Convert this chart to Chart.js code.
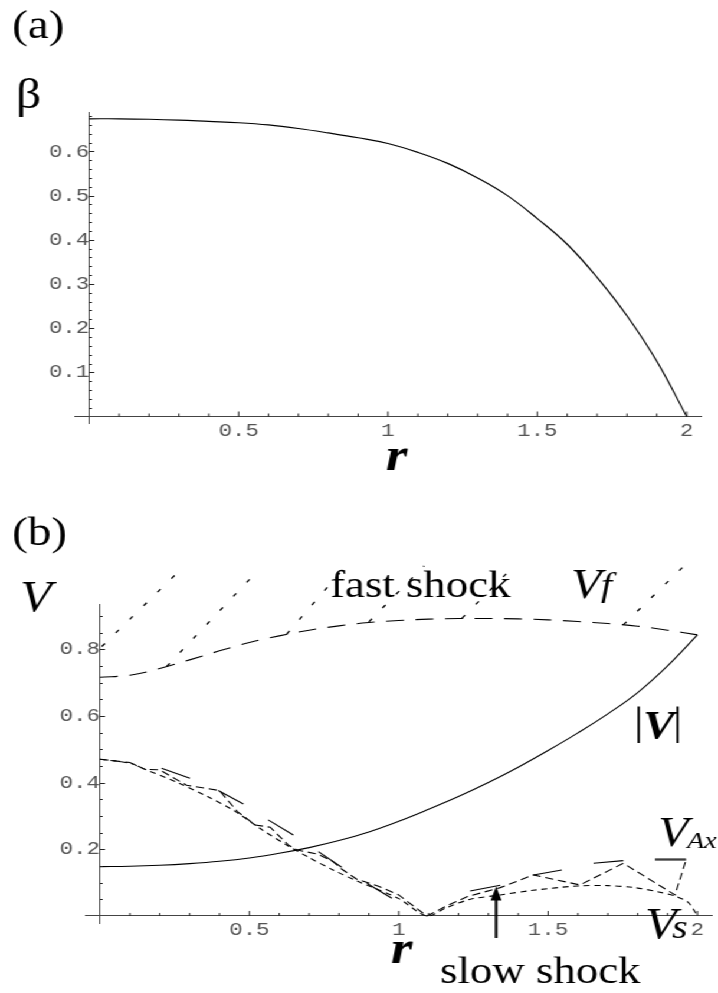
<!DOCTYPE html>
<html><head><meta charset="utf-8">
<script src="https://cdn.jsdelivr.net/npm/chart.js@4.4.1/dist/chart.umd.min.js"></script>
<style>
html,body{margin:0;padding:0;background:#fff;overflow:hidden;width:718px;height:993px;}
#wrap{position:absolute;left:0;top:0;width:609px;height:993px;transform:scaleX(1.18);transform-origin:0 0;}
canvas{position:absolute;left:0;}
</style></head><body>
<div id="wrap">
<canvas id="c1" width="609" height="480" style="top:0;width:609px;height:480px"></canvas>
<canvas id="c2" width="609" height="513" style="top:480px;width:609px;height:513px"></canvas>
</div>
<script>
// ---------- data: panel (a) ----------
const betaR   = [0,0.1,0.2,0.3,0.4,0.5,0.6,0.7,0.8,0.9,1.0,1.1,1.2,1.3,1.4,1.5,1.6,1.7,1.8,1.9,2.0];
const betaVal = [0.674,0.674,0.673,0.671,0.668,0.665,0.660,0.652,0.642,0.631,0.618,0.598,0.573,0.540,0.500,0.448,0.390,0.315,0.228,0.125,0.0];
const aXMajor = [0.5,1,1.5,2];
const aYMajor = [0.1,0.2,0.3,0.4,0.5,0.6];
const aXMinor = [0.1,0.2,0.3,0.4,0.5,0.6,0.7,0.8,0.9,1.0,1.1,1.2,1.3,1.4,1.5,1.6,1.7,1.8,1.9,2.0];
const aYMinor = [0.02,0.04,0.06,0.08,0.1,0.12,0.14,0.16,0.18,0.2,0.22,0.24,0.26,0.28,0.3,0.32,0.34,0.36,0.38,0.4,0.42,0.44,0.46,0.48,0.5,0.52,0.54,0.56,0.58,0.6,0.62,0.64,0.66,0.68];

// ---------- data: panel (b) ----------
const rGrid  = [0,0.1,0.2,0.3,0.4,0.5,0.6,0.7,0.8,0.9,1.0,1.1,1.2,1.3,1.4,1.5,1.6,1.7,1.8,1.9,2.0];
const vAbs   = [0.148,0.149,0.152,0.157,0.164,0.174,0.188,0.205,0.226,0.252,0.284,0.320,0.358,0.400,0.446,0.496,0.549,0.606,0.670,0.750,0.843];
const vFast  = [0.716,0.722,0.742,0.768,0.795,0.820,0.840,0.857,0.870,0.880,0.886,0.890,0.892,0.892,0.891,0.888,0.883,0.877,0.869,0.857,0.843];
const vaxR   = [0,0.10,0.15,0.20,0.29,0.40,0.46,0.52,0.57,0.63,0.66,0.73,0.78,0.81,0.86,0.93,1.00,1.094,1.16,1.23,1.34,1.451,1.607,1.752,1.925,1.962];
const vaxV   = [0.470,0.460,0.440,0.438,0.392,0.376,0.313,0.273,0.266,0.213,0.198,0.185,0.163,0.140,0.110,0.090,0.063,0.0,0.030,0.058,0.085,0.123,0.093,0.158,0.063,0.168];
const vsR    = [0,0.1,0.15,0.26,0.36,0.45,0.54,0.63,0.70,0.78,0.86,1.0,1.094,1.16,1.24,1.34,1.45,1.6,1.7,1.79,1.87,1.925,1.97,2.0];
const vsV    = [0.47,0.458,0.44,0.40,0.358,0.315,0.26,0.21,0.175,0.138,0.105,0.052,0.0,0.025,0.05,0.063,0.077,0.09,0.091,0.085,0.072,0.06,0.04,0.0];
// solid shock segments: [r1, V1, r2, V2]
const shockSegs = [[0.206,0.443,0.301,0.413],[0.396,0.376,0.48,0.336],[0.563,0.288,0.647,0.243],[0.731,0.193,0.809,0.146],[0.893,0.098,0.977,0.053],[1.239,0.075,1.34,0.092],[1.451,0.123,1.546,0.138],[1.652,0.158,1.752,0.166],[1.858,0.168,1.962,0.168]];
// fast-shock characteristics (dotted): [r1, V1, r2, V2]
const fastLines = [[0.006,0.808,0.268,1.037],[0.223,0.748,0.530,1.037],[0.625,0.845,0.826,1.053],[0.900,0.882,1.085,1.050],[1.212,0.893,1.390,1.053],[1.752,0.873,1.952,1.047]];
const arrowR = 1.326, arrowFrom = -0.066, arrowTo = 0.088;
const bXMajor = [0.5,1,1.5,2];
const bYMajor = [0.2,0.4,0.6,0.8];
const bXMinor = [0.1,0.2,0.3,0.4,0.5,0.6,0.7,0.8,0.9,1.0,1.1,1.2,1.3,1.4,1.5,1.6,1.7,1.8,1.9,2.0];
const bYMinor = [0.05,0.1,0.15,0.2,0.25,0.3,0.35,0.4,0.45,0.5,0.55,0.6,0.65,0.7,0.75,0.8,0.85,0.9];

// ---------- helpers ----------
const S = 1.18;
const SERIF = "'Liberation Serif','Times New Roman',serif";
const fmt = v => (Math.abs(v) < 1e-9 ? '' : String(parseFloat(Number(v).toFixed(2))));
const pts = (xs, ys) => xs.map((x, i) => ({x: x, y: ys[i]}));
const isMajor = (v, list) => list.some(m => Math.abs(m - v) < 1e-6);

function mmaPlugin(opt) {
  return {
    id: 'mma',
    afterDraw(chart) {
      const ctx = chart.ctx, xs = chart.scales.x, ys = chart.scales.y;
      const x0 = xs.getPixelForValue(0), y0 = ys.getPixelForValue(0);
      ctx.save();
      ctx.strokeStyle = '#222'; ctx.lineWidth = 1;
      ctx.beginPath();
      opt.xMinor.forEach(v => {
        const p = xs.getPixelForValue(v);
        const L = isMajor(v, opt.xMajor) ? 5 : 3;
        ctx.moveTo(p, y0); ctx.lineTo(p, y0 - L);
      });
      opt.yMinor.forEach(v => {
        const p = Math.round(ys.getPixelForValue(v)) + 0.5;
        const L = (isMajor(v, opt.yMajor) ? 5 : 2.7) / S;
        ctx.moveTo(x0, p); ctx.lineTo(x0 + L, p);
      });
      ctx.stroke();
      if (opt.arrow) {
        const ax = xs.getPixelForValue(opt.arrow.r);
        const yb = ys.getPixelForValue(opt.arrow.from), yt = ys.getPixelForValue(opt.arrow.to);
        ctx.strokeStyle = '#000'; ctx.fillStyle = '#000'; ctx.lineWidth = 2.6 / S;
        ctx.beginPath(); ctx.moveTo(ax, yb); ctx.lineTo(ax, yt + 12); ctx.stroke();
        ctx.beginPath(); ctx.moveTo(ax, yt); ctx.lineTo(ax - 5.5 / S, yt + 14); ctx.lineTo(ax + 5.5 / S, yt + 14); ctx.closePath(); ctx.fill();
      }
      ctx.fillStyle = '#000'; ctx.textBaseline = 'alphabetic'; ctx.textAlign = 'left';
      opt.texts.forEach(t => {
        ctx.font = t.font;
        ctx.fillText(t.s, t.x / S, t.y - opt.top);
      });
      if (opt.leaders) {
        ctx.strokeStyle = '#000'; ctx.lineWidth = 1;
        ctx.beginPath();
        opt.leaders.forEach(l => { ctx.moveTo(l[0] / S, l[1] - opt.top); ctx.lineTo(l[2] / S, l[3] - opt.top); });
        ctx.stroke();
      }
      ctx.restore();
    }
  };
}

function scaleOpts(min, max, axisPos, majors, pad) {
  return {
    type: 'linear', min: min, max: max, position: axisPos,
    afterBuildTicks: s => { s.ticks = majors.map(v => ({value: v})); },
    ticks: {autoSkip: false, maxRotation: 0, minRotation: 0, padding: pad, color: '#555',
            font: {family: "'Liberation Mono','Courier New',monospace", size: 19},
            callback: v => fmt(v)},
    grid: {display: true, drawOnChartArea: false, drawTicks: false},
    border: {display: true, color: '#444', width: 1}
  };
}

const common = {
  responsive: false, animation: false, devicePixelRatio: 1, events: [],
  plugins: {legend: {display: false}, tooltip: {enabled: false}},
  elements: {point: {radius: 0}, line: {borderColor: '#000', borderWidth: 1.1, fill: false}}
};

// ---------- chart (a) ----------
new Chart(document.getElementById('c1'), {
  type: 'line',
  data: {datasets: [
    {data: pts(betaR, betaVal), tension: 0.4, borderColor: '#000', borderWidth: 1.2}
  ]},
  options: Object.assign({}, common, {
    layout: {padding: {left: 63.0, right: 14.4, top: 112.6, bottom: 56.2}},
    scales: {
      x: scaleOpts(-0.05, 2.05, {y: 0}, aXMajor, 3),
      y: scaleOpts(-0.0165, 0.688, {x: 0}, aYMajor, 6)
    }
  }),
  plugins: [mmaPlugin({top: 0, xMajor: aXMajor, yMajor: aYMajor, xMinor: aXMinor, yMinor: aYMinor,
    texts: [
      {s: '(a)', x: 12, y: 38, font: '40px ' + SERIF},
      {s: 'β', x: 16, y: 108, font: '42px ' + SERIF},
      {s: 'r', x: 386, y: 470, font: 'italic bold 47px ' + SERIF}
    ]})]
});

// ---------- chart (b) ----------
const dsB = [
  {data: pts(rGrid, vAbs), tension: 0.4, borderWidth: 1.1},
  {data: pts(rGrid, vFast), tension: 0.4, borderDash: [15, 10], borderWidth: 1.1},
  {data: pts(vaxR, vaxV), tension: 0, borderDash: [7, 4], borderWidth: 1.1},
  {data: pts(vsR, vsV), tension: 0.3, borderDash: [5, 4], borderWidth: 1.1}
];
shockSegs.forEach(s => dsB.push({data: [{x: s[0], y: s[1]}, {x: s[2], y: s[3]}], borderWidth: 1.1}));
fastLines.forEach(s => dsB.push({data: [{x: s[0], y: s[1]}, {x: s[2], y: s[3]}], borderDash: [4, 14], borderWidth: 1.3, clip: false}));

new Chart(document.getElementById('c2'), {
  type: 'line',
  data: {datasets: dsB},
  options: Object.assign({}, common, {
    layout: {padding: {left: 72.1, right: 5.3, top: 124, bottom: 69.7}},
    scales: {
      x: scaleOpts(-0.05, 2.05, {y: 0}, bXMajor, 3),
      y: scaleOpts(-0.022, 0.9355, {x: 0}, bYMajor, 6)
    }
  }),
  plugins: [mmaPlugin({top: 480, xMajor: bXMajor, yMajor: bYMajor, xMinor: bXMinor, yMinor: bYMinor,
    arrow: {r: arrowR, from: arrowFrom, to: arrowTo},
    leaders: [[655, 859, 686, 859]],
    texts: [
      {s: '(b)', x: 12, y: 545, font: '40px ' + SERIF},
      {s: 'V', x: 20, y: 611, font: 'italic 44px ' + SERIF},
      {s: 'fast shock', x: 330, y: 597, font: '38px ' + SERIF},
      {s: 'V', x: 571, y: 598, font: 'italic 42px ' + SERIF},
      {s: 'f', x: 601, y: 596, font: 'italic 34px ' + SERIF},
      {s: '|', x: 634, y: 734, font: '40px ' + SERIF},
      {s: 'V', x: 643, y: 738, font: 'italic bold 40px ' + SERIF},
      {s: '|', x: 673, y: 734, font: '40px ' + SERIF},
      {s: 'V', x: 658, y: 846, font: 'italic 42px ' + SERIF},
      {s: 'Ax', x: 687, y: 848, font: 'italic 24px ' + SERIF},
      {s: 'V', x: 645, y: 938, font: 'italic 44px ' + SERIF},
      {s: 's', x: 672, y: 938, font: 'italic 34px ' + SERIF},
      {s: 'r', x: 391, y: 963, font: 'italic bold 47px ' + SERIF},
      {s: 'slow shock', x: 440, y: 983, font: '38px ' + SERIF}
    ]})]
});
</script>
</body></html>
